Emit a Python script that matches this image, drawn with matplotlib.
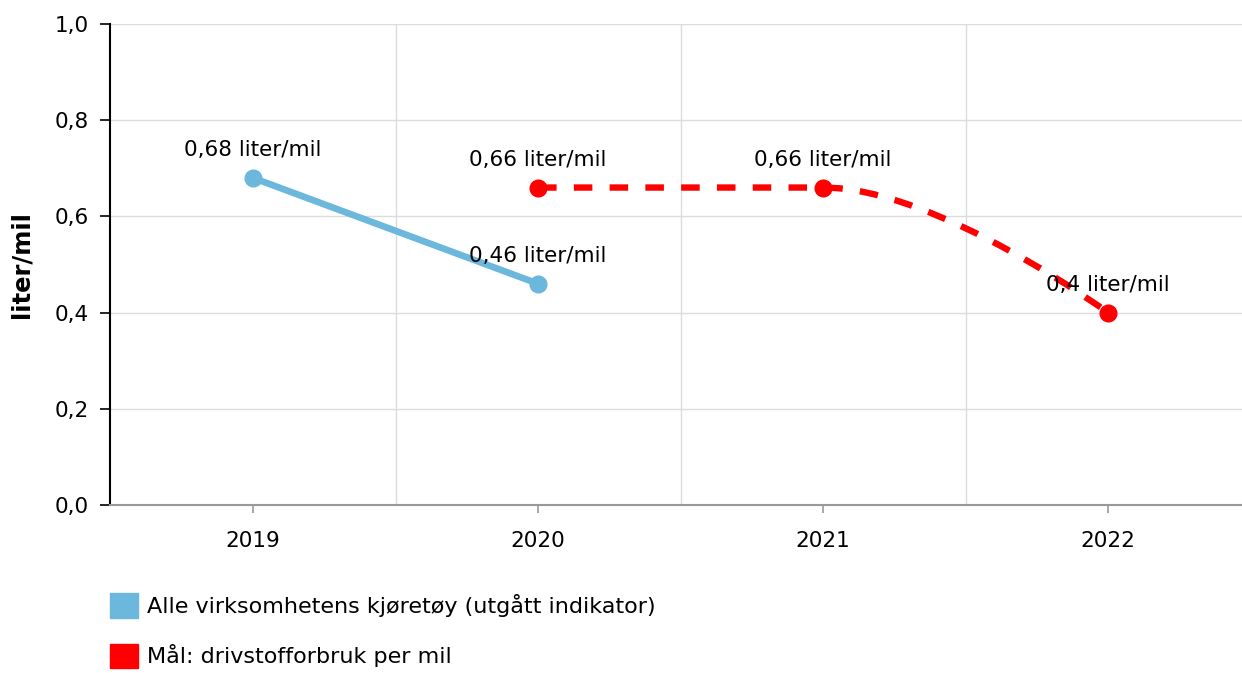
import numpy as np
import matplotlib
matplotlib.use("Agg")
import matplotlib.pyplot as plt
from matplotlib.path import Path
from matplotlib.patches import PathPatch, Patch
from matplotlib.ticker import FuncFormatter

# data
years = ["2019", "2020", "2021", "2022"]
all_vehicles = [0.68, 0.46, np.nan, np.nan]
target = [np.nan, 0.66, 0.66, 0.40]
labels_all = ["0,68 liter/mil", "0,46 liter/mil", None, None]
labels_target = [None, "0,66 liter/mil", "0,66 liter/mil", "0,4 liter/mil"]
series_names = ["Alle virksomhetens kjøretøy (utgått indikator)",
                "Mål: drivstofforbruk per mil"]

blue = "#6cb7dc"
red = "#ff0000"
grid_col = "#dcdcdc"
fs = 15.5

plt.rcParams['font.family'] = ['DejaVu Sans']


def spline_path(xs, ys, smoothing=1.5):
    # highcharts-like spline through the points (cubic bezier segments)
    n = len(xs)
    verts = [(xs[0], ys[0])]
    codes = [Path.MOVETO]
    left = [None] * n
    right = [None] * n
    for i in range(1, n - 1):
        x, y = xs[i], ys[i]
        lx = (smoothing * x + xs[i - 1]) / (smoothing + 1)
        ly = (smoothing * y + ys[i - 1]) / (smoothing + 1)
        rx = (smoothing * x + xs[i + 1]) / (smoothing + 1)
        ry = (smoothing * y + ys[i + 1]) / (smoothing + 1)
        corr = (ry - ly) * (rx - x) / (rx - lx) + y - ry
        ly += corr
        ry += corr
        # avoid false extremes
        if ly > ys[i - 1] and ly > y:
            ly = max(ys[i - 1], y)
            ry = 2 * y - ly
        elif ly < ys[i - 1] and ly < y:
            ly = min(ys[i - 1], y)
            ry = 2 * y - ly
        if ry > ys[i + 1] and ry > y:
            ry = max(ys[i + 1], y)
            ly = 2 * y - ry
        elif ry < ys[i + 1] and ry < y:
            ry = min(ys[i + 1], y)
            ly = 2 * y - ry
        left[i] = (lx, ly)
        right[i] = (rx, ry)
    for i in range(1, n):
        c1 = right[i - 1] if right[i - 1] else (xs[i - 1], ys[i - 1])
        c2 = left[i] if left[i] else (xs[i], ys[i])
        verts += [c1, c2, (xs[i], ys[i])]
        codes += [Path.CURVE4] * 3
    return Path(verts, codes)


fig = plt.figure(figsize=(12.42, 6.73), dpi=100)
ax = fig.add_axes([110 / 1242, 1 - 505 / 673, 1 - 110 / 1242, (505 - 24) / 673])

x = np.arange(len(years))

# grid
for v in np.arange(0.2, 1.01, 0.2):
    ax.axhline(v, color=grid_col, lw=1, zorder=0)
for b in x[:-1] + 0.5:
    ax.axvline(b, color=grid_col, lw=1, zorder=0)

# blue series
ax.plot(x, all_vehicles, color=blue, lw=4.8, marker="o", markersize=12,
        solid_capstyle="round", zorder=3)

# red target series (smooth dashed)
t = np.array(target)
m = ~np.isnan(t)
path = spline_path(list(x[m].astype(float)), list(t[m]))
ax.add_patch(PathPatch(path, fill=False, edgecolor=red, lw=4.6,
                       linestyle=(0, (2.9, 2.7)), capstyle="butt", zorder=3))
ax.plot(x[m], t[m], "o", color=red, markersize=12, zorder=4)

# data labels
for xi, yi, lab in zip(x, all_vehicles, labels_all):
    if lab:
        ax.annotate(lab, (xi, yi), xytext=(0, 20), textcoords="offset points",
                    ha="center", va="center", fontsize=fs, color="#000000", zorder=5)
for xi, yi, lab in zip(x, target, labels_target):
    if lab:
        ax.annotate(lab, (xi, yi), xytext=(0, 20), textcoords="offset points",
                    ha="center", va="center", fontsize=fs, color="#000000", zorder=5)

ax.set_xlim(-0.502, 3.47)
ax.set_ylim(0, 1.0)
ax.set_xticks(x)
ax.set_xticklabels(years)
ax.set_yticks(np.arange(0, 1.01, 0.2))
ax.yaxis.set_major_formatter(FuncFormatter(lambda v, p: f"{v:.1f}".replace(".", ",")))

for s in ["top", "right"]:
    ax.spines[s].set_visible(False)
ax.spines["left"].set_color("#000000")
ax.spines["left"].set_linewidth(1.5)
ax.spines["bottom"].set_color("#999999")
ax.spines["bottom"].set_linewidth(1.5)
ax.tick_params(axis="y", length=7, width=1.2, color="#000000", pad=8,
               labelsize=fs, labelcolor="#000000")
ax.tick_params(axis="x", length=6, width=1.2, color="#999999", pad=13,
               labelsize=fs, labelcolor="#000000")

ax.set_ylabel("liter/mil", fontsize=17.5, fontweight="bold")
ax.yaxis.set_label_coords(-0.068, 0.5)

# legend
handles = [Patch(color=blue), Patch(color=red)]
fig.legend(handles, series_names, loc="upper left",
           bbox_to_anchor=(110 / 1242, 1 - 593 / 673), frameon=False,
           fontsize=16, handlelength=1.25, handleheight=1.35,
           handletextpad=0.4, labelspacing=1.15, borderpad=0, borderaxespad=0)

fig.savefig("out.png", dpi=100)
